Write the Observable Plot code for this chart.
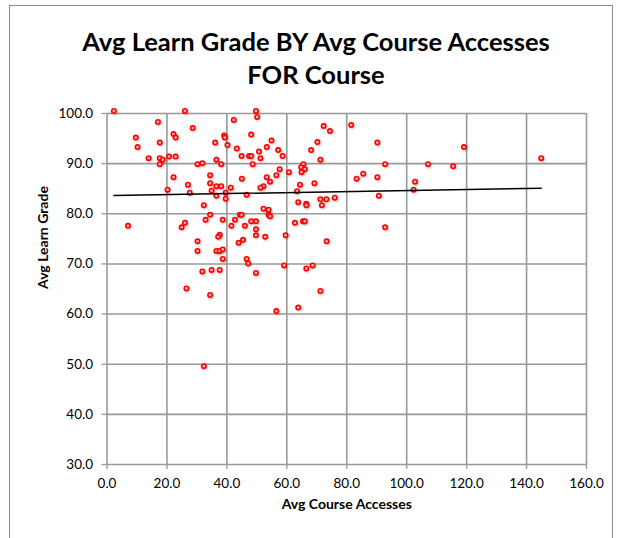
<!DOCTYPE html>
<html>
<head>
<meta charset="utf-8">
<script src="https://cdn.jsdelivr.net/npm/d3@7"></script>
<script src="https://cdn.jsdelivr.net/npm/@observablehq/plot@0.6"></script>
<style>
  html, body { margin: 0; padding: 0; background: #fff; }
  #wrap { position: relative; width: 620px; height: 538px; overflow: hidden; font-family: Lato, "Open Sans", sans-serif; }
  #frame { position: absolute; left: 9px; top: 5px; width: 604px; height: 560px; border: 1px solid #8c8c8c; box-sizing: border-box; }
  #title { position: absolute; left: 0; top: 25px; width: 632px; text-align: center; font-weight: bold; font-size: 25.5px; line-height: 33px; color: #000; z-index: 2; }
  #chart { position: absolute; left: 0; top: 0; z-index: 1; }
  #chart svg { background: transparent !important; }
  g[aria-label="dot"] circle { filter: drop-shadow(1px 1.5px 1px rgba(0,0,0,0.25)); }
</style>
</head>
<body>
<div id="wrap">
  <div id="frame"></div>
  <div id="chart"></div>
  <div id="title">Avg Learn Grade BY Avg Course Accesses<br>FOR Course</div>
</div>
<script>
// Data
const courseAccesses = [
  2.3, 26.0, 17.0, 28.6, 9.6, 22.2, 22.9, 17.6, 10.2, 36.1, 39.1, 39.3, 40.2, 13.9, 17.6, 18.6, 20.7, 22.9, 17.6, 30.2,
  31.8, 36.5, 38.1, 22.2, 34.4, 34.4, 27.0, 20.2, 27.6, 34.9, 36.5, 38.1, 39.6, 36.5, 39.6,
  49.7, 50.1, 42.3, 48.1, 54.9, 53.3, 43.3, 50.7, 57.1, 44.9, 47.4, 48.1, 51.2, 58.6, 48.6, 72.3, 74.4, 70.2, 68.1, 71.2,
  81.5, 65.5, 64.8, 66.0, 64.9, 57.6, 60.7, 56.5, 53.3, 45.0, 54.4, 64.4, 69.2, 52.2, 51.2, 41.3, 63.4, 46.6, 71.2, 73.2, 76.0,
  90.2, 119.1, 92.8, 107.1, 115.5, 85.5, 83.3, 90.2, 102.8, 102.3, 90.7,
  144.9,
  32.3, 34.4, 32.9, 38.6, 7.0, 26.0, 24.9, 41.5, 37.6, 37.1, 30.2, 30.2, 36.5, 37.6, 38.6, 38.6, 31.8, 34.9, 37.6, 26.5,
  63.8, 66.5, 66.5, 71.7, 52.2, 53.9, 53.9, 54.4, 44.3, 44.9, 42.7, 46.0, 48.1, 49.7, 49.7, 49.7, 52.8, 59.6, 62.7, 65.4,
  66.0, 73.3, 45.4, 43.9, 46.6, 47.1, 49.7, 59.1, 66.5, 68.6, 71.2,
  92.8,
  34.4, 32.3,
  63.8, 56.5
];
const learnGrade = [
  100.5, 100.5, 98.3, 97.1, 95.2, 95.9, 95.2, 94.2, 93.3, 94.2, 95.6, 95.2, 93.7, 91.1, 91.1, 90.8, 91.4, 91.4, 89.9, 89.9,
  90.1, 90.8, 89.9, 87.3, 87.7, 86.1, 85.8, 84.8, 84.2, 84.6, 85.5, 85.5, 84.2, 83.6, 83.0,
  100.5, 99.3, 98.7, 95.8, 94.6, 93.3, 93.0, 92.4, 92.7, 91.5, 91.5, 91.5, 91.1, 91.5, 89.9, 97.5, 96.5, 94.3, 92.7, 90.8,
  97.7, 89.9, 89.3, 88.9, 88.3, 88.9, 88.3, 87.7, 87.3, 87.0, 86.4, 85.8, 86.1, 85.5, 85.2, 85.2, 84.5, 83.8, 82.9, 82.9, 83.2,
  94.2, 93.3, 89.9, 89.9, 89.5, 88.0, 87.0, 87.3, 86.4, 84.8, 83.6,
  91.1,
  81.7, 79.8, 78.8, 78.8, 77.6, 78.2, 77.3, 77.6, 75.8, 75.4, 74.5, 72.6, 72.6, 72.6, 72.9, 71.0, 68.5, 68.8, 68.8, 65.1,
  82.3, 82.0, 81.7, 81.7, 81.0, 80.8, 79.8, 79.5, 79.8, 79.8, 78.8, 77.6, 78.5, 78.5, 76.9, 75.7, 75.4, 75.7, 78.2, 78.5,
  78.5, 74.5, 74.8, 74.2, 71.0, 70.1, 68.2, 69.7, 69.1, 69.7, 64.6,
  77.3,
  63.8, 49.6,
  61.3, 60.6
];
const xTicks = [0, 20, 40, 60, 80, 100, 120, 140, 160];
const yTicks = [30, 40, 50, 60, 70, 80, 90, 100];
const xLabel = "Avg Course Accesses";
const yLabel = "Avg Learn Grade";

const points = courseAccesses.map((x, i) => ({x, y: learnGrade[i]}));
const fmt = d3.format(".1f");

const chart = Plot.plot({
  width: 620,
  height: 538,
  marginLeft: 106.5,
  marginRight: 34,
  marginTop: 113,
  marginBottom: 74,
  style: {fontFamily: "Lato, 'Open Sans', sans-serif", fontSize: "13px", color: "#000", background: "transparent"},
  x: {domain: [0, 160]},
  y: {domain: [30, 100]},
  marks: [
    Plot.gridX(xTicks, {stroke: "#999", strokeOpacity: 1, strokeWidth: 1.6}),
    Plot.gridY(yTicks, {stroke: "#999", strokeOpacity: 1, strokeWidth: 1.6}),
    Plot.axisX(xTicks, {tickSize: 5, tickPadding: 9, tickFormat: fmt, stroke: "#999", strokeWidth: 1.3, fill: "#000", label: null, fontSize: 13.5}),
    Plot.axisY(yTicks, {tickSize: 5, tickPadding: 9, tickFormat: fmt, stroke: "#999", strokeWidth: 1.3, fill: "#000", label: null, fontSize: 13.5}),
    Plot.dot(points, {x: "x", y: "y", r: 2.2, fill: "#ffb3b3", stroke: "#ff0000", strokeWidth: 1.6}),
    Plot.linearRegressionY(points, {x: "x", y: "y", stroke: "#000", strokeWidth: 1.5, ci: 0}),
    Plot.text([xLabel], {frameAnchor: "bottom", dy: 44, text: d => d, fontWeight: "bold", fontSize: 14}),
    Plot.text([yLabel], {frameAnchor: "left", dx: -63, rotate: -90, text: d => d, fontWeight: "bold", fontSize: 14})
  ]
});
document.getElementById("chart").appendChild(chart);
</script>
</body>
</html>
